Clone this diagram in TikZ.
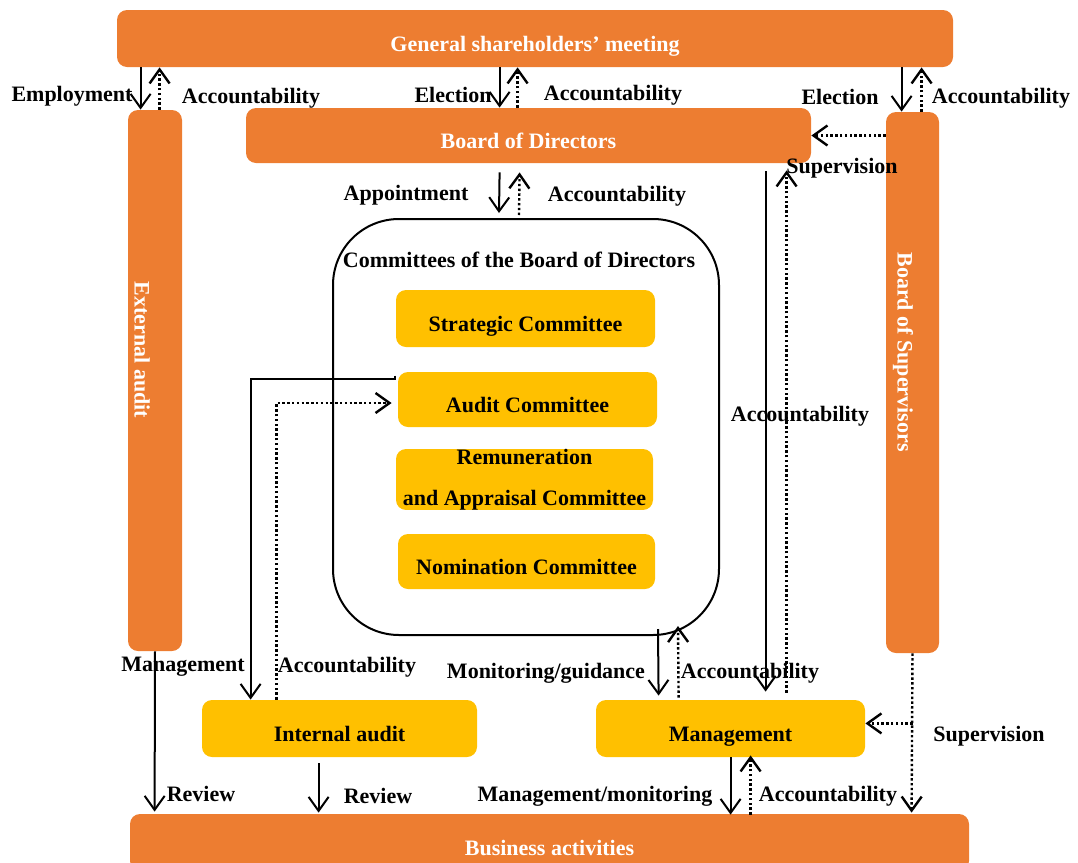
\documentclass[tikz,border=0pt]{standalone}
\usepackage{fontspec}
\setmainfont{Liberation Serif}
\usetikzlibrary{arrows.meta,calc}
\definecolor{govorange}{HTML}{ED7D31}
\definecolor{govyellow}{HTML}{FFC000}

\begin{document}
\begin{tikzpicture}[x=0.5pt,y=-0.5pt,
	every node/.style={font=\fontsize{11}{13}\selectfont\bfseries, inner sep=0pt},
	obox/.style={fill=govorange, rounded corners=5pt, text=white, text height=13pt, text depth=0pt},
	ybox/.style={fill=govyellow, rounded corners=5pt, text height=13pt, text depth=0pt},
	arr/.style={line width=1pt, -{Straight Barb[length=7pt,width=10pt]}},
	darr/.style={arr, line width=1.2pt, dash pattern=on 1.2pt off 1.2pt},
	]
	\clip (0,0) rectangle (1078,863);

	\node[obox, minimum width=418pt, minimum height=28.5pt] (gsm) at (535,38.5) {General shareholders’ meeting};
	\node[obox, minimum width=282.5pt, minimum height=27.5pt] (bod) at (528.5,135.5) {Board of Directors};
	\node[obox, minimum width=27pt, minimum height=270.5pt] (ea) at (155,380.5) {};
	\node[text=white, rotate=-90] (eatxt) at (142,350) {External audit};
	\node[obox, minimum width=26.5pt, minimum height=270.5pt] (bos) at (912.5,382.5) {};
	\node[text=white, rotate=-90] (bostxt) at (903,352) {Board of Supervisors};
	\node[obox, minimum width=419.5pt, minimum height=28.5pt] (ba) at (549.5,842.5) {Business activities};

	\node[draw, line width=1pt, rounded corners=33pt, minimum width=193pt, minimum height=208pt] (com) at (526,427) {};
	\node (comtitle) at (519,260) {Committees of the Board of Directors};
	\node[ybox, minimum width=129.5pt, minimum height=28.5pt] (sc) at (525.5,318.5) {Strategic Committee};
	\node[ybox, minimum width=129.5pt, minimum height=27.5pt] (ac) at (527.5,399.5) {Audit Committee};
	\node[ybox, minimum width=128.5pt, minimum height=27.5pt, align=center, text height=, text depth=,
		font=\fontsize{11}{20.5}\selectfont\bfseries] (rac) at (524.5,479.5) {Remuneration\\and Appraisal Committee};
	\node[ybox, minimum width=128.5pt, minimum height=27.5pt] (nc) at (526.5,561.5) {Nomination Committee};
	\node[ybox, minimum width=137.5pt, minimum height=28.5pt] (ia) at (339.5,728.5) {Internal audit};
	\node[ybox, minimum width=134.5pt, minimum height=28.5pt] (mg) at (730.5,728.5) {Management};

	\draw[arr] ($(gsm.south west)+(24,0)$) -- ($(ea.north west)+(13,0)$);
	\draw[darr] ($(ea.north west)+(32,0)$) -- ($(gsm.south west)+(43,0)$);
	\draw[arr] ($(gsm.south west)+(383,0)$) -- ($(bod.north west)+(254,0)$);
	\draw[darr] ($(bod.north west)+(272,0)$) -- ($(gsm.south west)+(401,0)$);
	\draw[arr] ($(gsm.south west)+(785,0)$) -- ($(bos.north west)+(16,0)$);
	\draw[darr] ($(bos.north west)+(36,0)$) -- ($(gsm.south west)+(805,0)$);
	\draw[darr] (bos.west |- bod.east) -- (bod.east);

	\draw[arr] ($(bod.south west)+(254,9)$) -- ($(com.north west)+(167,-5)$);
	\draw[darr] ($(com.north west)+(187,-3)$) -- ($(bod.south west)+(274,9)$);
	\draw[arr] ($(bod.south west)+(520,8)$) -- ($(mg.north west)+(170,-8)$);
	\draw[darr] ($(mg.north west)+(191,-7)$) -- ($(bod.south west)+(541,7)$);
	\draw[arr] ($(com.south west)+(326,-7)$) -- ($(mg.north west)+(63,-4)$);
	\draw[darr] ($(mg.north west)+(83,-2)$) -- ($(com.south west)+(346,-10)$);
	\draw[arr] ($(mg.south west)+(135,0)$) -- ($(ba.north west)+(601,1)$);
	\draw[darr] ($(ba.north west)+(621,1)$) -- ($(mg.south west)+(155,-2)$);
	\draw[darr] (bos.south) -- ($(ba.north west)+(782,-1)$);
	\coordinate (supfork) at ($(bos.south)+(0,70)$);
	\draw[darr] (supfork) -- (supfork -| mg.east);

	\draw[arr] (ea.south) -- ($(ba.north west)+(25,-2)$);
	\draw[arr] ($(ac.north west)+(-3,4)$) -- ++(0,3) -| ($(ia.north west)+(49,0)$);
	\draw[darr] ($(ia.north west)+(75,0)$) |- ($(ac.west)+(-6,3.5)$);
	\draw[arr] ($(ia.south west)+(117,6)$) -- ($(ba.north west)+(189,-1)$);

	\node (lemp) at (72,96) {Employment};
	\node (lacc1) at (251,98) {Accountability};
	\node (lel1) at (453,95) {Election};
	\node (lacc2) at (613,95) {Accountability};
	\node (lel2) at (840,97) {Election};
	\node (lacc3) at (1001,98) {Accountability};
	\node (lsup1) at (842,168) {Supervision};
	\node (lapp) at (406,195) {Appointment};
	\node (lacc4) at (617,196) {Accountability};
	\node (lacc5) at (800,416) {Accountability};
	\node (lmgmt) at (183,667) {Management};
	\node (lacc6) at (347,667) {Accountability};
	\node (lmon) at (546,673) {Monitoring/guidance};
	\node (lacc7) at (750,673) {Accountability};
	\node (lsup2) at (989,736) {Supervision};
	\node (lrev1) at (201,794) {Review};
	\node (lrev2) at (378,796) {Review};
	\node (lmm) at (595,796) {Management/monitoring};
	\node (lacc8) at (828,796) {Accountability};
\end{tikzpicture}
\end{document}
